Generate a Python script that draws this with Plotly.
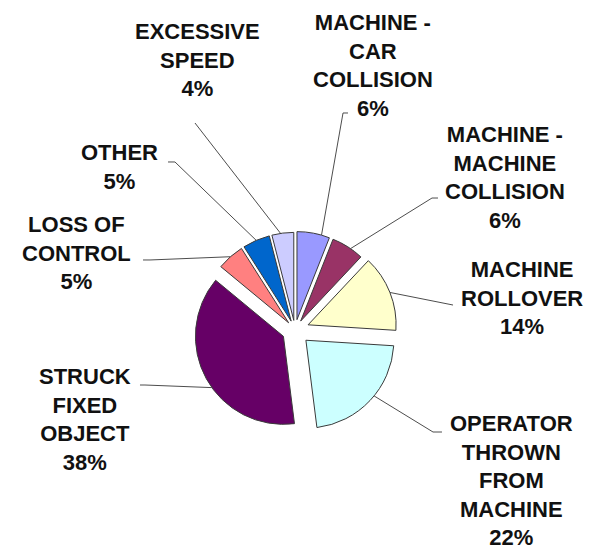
import math
import plotly.graph_objects as go

# ---- data ----
categories = [
    "MACHINE - CAR COLLISION",
    "MACHINE - MACHINE COLLISION",
    "MACHINE ROLLOVER",
    "OPERATOR THROWN FROM MACHINE",
    "STRUCK FIXED OBJECT",
    "LOSS OF CONTROL",
    "OTHER",
    "EXCESSIVE SPEED",
]
label_lines = [
    ["MACHINE -", "CAR", "COLLISION"],
    ["MACHINE -", "MACHINE", "COLLISION"],
    ["MACHINE", "ROLLOVER"],
    ["OPERATOR", "THROWN", "FROM", "MACHINE"],
    ["STRUCK", "FIXED", "OBJECT"],
    ["LOSS OF", "CONTROL"],
    ["OTHER"],
    ["EXCESSIVE", "SPEED"],
]
percent = [6, 6, 14, 22, 38, 5, 5, 4]

# ---- styles / layout ----
colors = ["#9999FF", "#993366", "#FFFFCC", "#CCFFFF", "#660066", "#FF8080", "#0066CC", "#CCCCFF"]
pulls = [0.12, 0.12, 0.16, 0.17, 0.15, 0.11, 0.11, 0.11]
PAGE_OFF = 8            # browser default body margin
W, H = 594, 542         # figure size so that the page is 602 x 550
# all positions below are in page pixels
PIE_CX, PIE_CY, PIE_R = 295, 330, 88
label_pos = [(373, 65), (505, 177), (522, 298), (511, 480), (85, 419), (76, 253), (119, 167), (197, 60)]
anchor_frac = [0.75, 0.6, 0.5, 0.45, 0.45, 0.5, 0.5, 0.4]
elbow = [(343, 113), (432, 198), (453, 305), (433, 432), (145, 385), (150, 260), (175, 162), (195, 123)]
stub = [(348, 113), (438, 198), (453, 305), (442, 432), (140, 385), (143, 260), (168, 162), (195, 123)]
FONT = dict(family="Arial, Liberation Sans, sans-serif", size=22, color="#111111")

def page_to_paper(x, y):
    return (x - PAGE_OFF) / W, 1 - (y - PAGE_OFF) / H

# pie domain derived from desired centre / radius (plotly: r = min(box)/(2+2*maxPull))
half = PIE_R * (1 + max(pulls))
fx, fy = PIE_CX - PAGE_OFF, PIE_CY - PAGE_OFF
dom_x = [(fx - half) / W, (fx + half) / W]
dom_y = [1 - (fy + half) / H, 1 - (fy - half) / H]

fig = go.Figure(go.Pie(
    labels=categories,
    values=percent,
    sort=False,
    direction="clockwise",
    rotation=0,
    pull=pulls,
    marker=dict(colors=colors, line=dict(color="#3a3a3a", width=1)),
    textinfo="none",
    hoverinfo="label+percent",
    showlegend=False,
    domain=dict(x=dom_x, y=dom_y),
))

boxW = W * (dom_x[1] - dom_x[0])
boxH = H * (dom_y[1] - dom_y[0])
r = min(boxW, boxH) / (2 + 2 * max(pulls))
cx = PAGE_OFF + W * (dom_x[0] + dom_x[1]) / 2
cy = PAGE_OFF + H * (1 - dom_y[0]) - boxH / 2

total = sum(percent)
start = 0.0
for i, v in enumerate(percent):
    span = 360.0 * v / total
    bis = math.radians(start + span / 2)
    ox = cx + pulls[i] * r * math.sin(bis)
    oy = cy - pulls[i] * r * math.cos(bis)
    th = math.radians(start + anchor_frac[i] * span)
    ax = ox + r * math.sin(th)
    ay = oy - r * math.cos(th)
    pts = [(ax, ay), elbow[i], stub[i]]
    path = "M " + " L ".join("%.4f,%.4f" % page_to_paper(*p) for p in pts)
    fig.add_shape(type="path", path=path, xref="paper", yref="paper",
                  line=dict(color="#4d4d4d", width=1))
    lx, ly = page_to_paper(*label_pos[i])
    fig.add_annotation(
        x=lx, y=ly, xref="paper", yref="paper",
        text="<b>" + "<br>".join(label_lines[i] + ["%d%%" % v]) + "</b>",
        showarrow=False, xanchor="center", yanchor="middle", align="center",
        font=FONT,
    )
    start += span

fig.update_layout(
    width=W, height=H,
    margin=dict(l=0, r=0, t=0, b=0),
    paper_bgcolor="white",
    plot_bgcolor="white",
)
fig.write_html("out.html")
